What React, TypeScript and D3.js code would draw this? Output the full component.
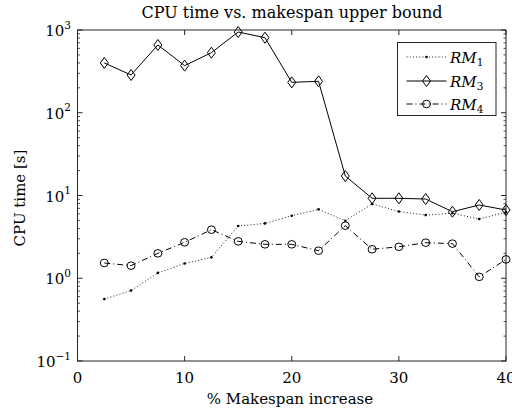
import React from 'react';
import * as d3 from 'd3';

const xValues = [2.5, 5, 7.5, 10, 12.5, 15, 17.5, 20, 22.5, 25, 27.5, 30, 32.5, 35, 37.5, 40];
const rm1 = [0.56, 0.71, 1.16, 1.51, 1.79, 4.28, 4.6, 5.7, 6.8, 4.96, 7.9, 6.4, 5.8, 6.1, 5.2, 6.3];
const rm3 = [400, 286, 659, 371, 532, 946, 807, 233, 240, 17.2, 9.25, 9.25, 9.07, 6.37, 7.68, 6.68];
const rm4 = [1.53, 1.42, 2.0, 2.72, 3.86, 2.79, 2.57, 2.57, 2.15, 4.32, 2.24, 2.4, 2.69, 2.62, 1.04, 1.69];
const xTicks = [0, 10, 20, 30, 40];
const yTickExps = [-1, 0, 1, 2, 3];
const legendSubs = ['1', '3', '4'];

const W = 512, H = 412;
const L = 77.5, R = 506, T = 30, B = 361;
const FONT = '"DejaVu Serif", serif';
const AX = '#262626';

export default function App() {
  const x = d3.scaleLinear().domain([0, 40]).range([L, R]);
  const y = d3.scaleLog().domain([0.1, 1000]).range([B, T]);
  const line = d3.line<number>().x((_, i) => x(xValues[i])).y(d => y(d));

  const minor: number[] = [];
  for (let e = -1; e < 3; e++) for (let k = 2; k <= 9; k++) minor.push(k * Math.pow(10, e));

  const diamond = (cx: number, cy: number) =>
    `M${cx},${cy - 5.5}L${cx + 4},${cy}L${cx},${cy + 5.5}L${cx - 4},${cy}Z`;

  const legendRows = [57, 81, 104];
  const lx0 = 406.5, lx1 = 446.5, lmx = 426.5;
  const ts = { fontFamily: FONT } as React.CSSProperties;

  return (
    <svg width={W} height={H} style={{ position: 'absolute', left: 0, top: 0, background: '#fff', fontFamily: FONT }}>
      <rect x={0} y={0} width={W} height={H} fill="#fff" />
      {/* title */}
      <text x={292} y={18} textAnchor="middle" fontSize={16} fill="#000" style={ts}>
        CPU time vs. makespan upper bound
      </text>
      {/* box */}
      <rect x={L} y={T} width={R - L} height={B - T} fill="none" stroke={AX} strokeWidth={1} />
      {/* x ticks */}
      {xTicks.map(t => (
        <g key={'xt' + t}>
          <line x1={x(t)} x2={x(t)} y1={B} y2={B - 5} stroke={AX} />
          <line x1={x(t)} x2={x(t)} y1={T} y2={T + 5} stroke={AX} />
          <text x={x(t)} y={383} textAnchor="middle" fontSize={15} style={ts}>{t}</text>
        </g>
      ))}
      {/* y ticks */}
      {yTickExps.map(e => {
        const yy = y(Math.pow(10, e));
        return (
          <g key={'yt' + e}>
            <line x1={L} x2={L + 5} y1={yy} y2={yy} stroke={AX} />
            <line x1={R} x2={R - 5} y1={yy} y2={yy} stroke={AX} />
            <text x={71} y={yy + 6} textAnchor="end" fontSize={15} style={ts}>
              10<tspan fontSize={10.5} dy={-7.5}>{e < 0 ? '\u2212' + Math.abs(e) : String(e)}</tspan>
            </text>
          </g>
        );
      })}
      {minor.map((v, i) => (
        <g key={'mn' + i}>
          <line x1={L} x2={L + 2.5} y1={y(v)} y2={y(v)} stroke={AX} strokeWidth={0.8} />
          <line x1={R} x2={R - 2.5} y1={y(v)} y2={y(v)} stroke={AX} strokeWidth={0.8} />
        </g>
      ))}
      {/* axis labels */}
      <text x={290} y={404} textAnchor="middle" fontSize={15} style={ts}>% Makespan increase</text>
      <text transform={`translate(25,198) rotate(-90)`} textAnchor="middle" fontSize={15} style={ts}>CPU time [s]</text>

      {/* series */}
      <path d={line(rm1) || ''} fill="none" stroke="#000" strokeWidth={0.9} strokeDasharray="1,2.2" />
      {rm1.map((v, i) => <circle key={'p1' + i} cx={x(xValues[i])} cy={y(v)} r={1.3} fill="#000" />)}
      <path d={line(rm3) || ''} fill="none" stroke="#000" strokeWidth={1} />
      {rm3.map((v, i) => <path key={'p3' + i} d={diamond(x(xValues[i]), y(v))} fill="none" stroke="#000" strokeWidth={1} />)}
      <path d={line(rm4) || ''} fill="none" stroke="#000" strokeWidth={1} strokeDasharray="6,3,1,3" />
      {rm4.map((v, i) => <ellipse key={'p4' + i} cx={x(xValues[i])} cy={y(v)} rx={4} ry={3.8} fill="none" stroke="#000" strokeWidth={1} />)}

      {/* legend */}
      <rect x={397.5} y={42.5} width={98.5} height={73} fill="#fff" stroke={AX} strokeWidth={1} />
      <line x1={lx0} x2={lx1} y1={legendRows[0]} y2={legendRows[0]} stroke="#000" strokeWidth={0.9} strokeDasharray="1,2.2" />
      <circle cx={lmx} cy={legendRows[0]} r={1.3} fill="#000" />
      <line x1={lx0} x2={lx1} y1={legendRows[1]} y2={legendRows[1]} stroke="#000" strokeWidth={1} />
      <path d={diamond(lmx, legendRows[1])} fill="none" stroke="#000" />
      <line x1={lx0} x2={lx1} y1={legendRows[2]} y2={legendRows[2]} stroke="#000" strokeWidth={1} strokeDasharray="6,3,1,3" />
      <ellipse cx={lmx} cy={legendRows[2]} rx={4} ry={3.8} fill="none" stroke="#000" />
      {legendSubs.map((s, i) => (
        <text key={'lg' + s} x={450} y={legendRows[i] + 6} fontSize={15} style={ts}>
          <tspan fontStyle="italic">RM</tspan><tspan fontSize={10.5} dy={3}>{s}</tspan>
        </text>
      ))}
    </svg>
  );
}
